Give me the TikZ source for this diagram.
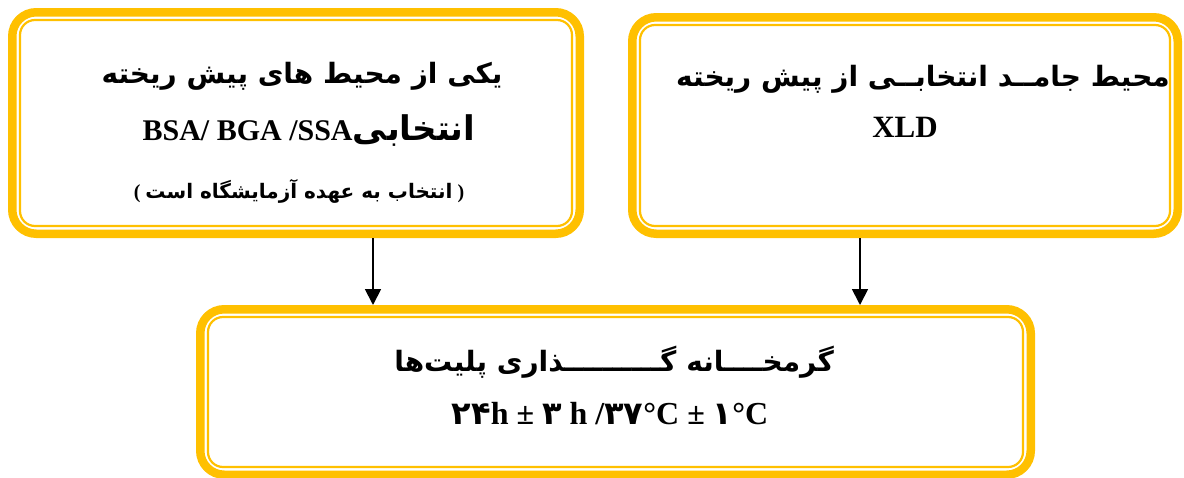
\documentclass[tikz,border=0pt]{standalone}
\usepackage{fontspec}
\setmainfont{Liberation Serif}
\newfontfamily\fa[Script=Arabic]{DejaVu Sans}
\usetikzlibrary{arrows.meta}
\TeXXeTstate=1
\definecolor{gold}{RGB}{255,192,0}
% right-to-left Persian run in bold
\newcommand{\rtl}[1]{{\fa\bfseries\beginR #1\endR}}

\begin{document}
\begin{tikzpicture}[x=1pt,y=-1pt,
  band/.style={rectangle, draw=gold, line width=8.5pt, rounded corners=24pt, inner sep=0pt},
  rim/.style={rectangle, draw=gold, line width=2.2pt, rounded corners=15pt, inner sep=0pt},
  lbl/.style={inner sep=0pt, anchor=center, font=\bfseries},
  arr/.style={line width=1.8pt, -{Triangle[length=16pt,width=16pt]}},
  ]
\useasboundingbox (0,0) rectangle (1184,477);

% boxes: thick outer band plus thin inner rim
\node[band, minimum width=567.5pt, minimum height=221.5pt] (b1) at (296,123) {};
\node[rim,  minimum width=552pt,   minimum height=206pt]   (b1r) at (b1.center) {};
\node[band, minimum width=545.5pt, minimum height=216.5pt] (b2) at (905,125.5) {};
\node[rim,  minimum width=530pt,   minimum height=201pt]   (b2r) at (b2.center) {};
\node[band, minimum width=830.5pt, minimum height=165.5pt] (b3) at (615.5,392) {};
\node[rim,  minimum width=815pt,   minimum height=150pt]   (b3r) at (b3.center) {};

% texts of the first box
\node[lbl, font=\fontsize{28}{32}\selectfont] (t11) at (302,76) {\rtl{یکی از محیط های پیش ریخته}};
\node[lbl, font=\fontsize{34}{38}\selectfont\bfseries] (t12) at (309,131)
  {{\fontsize{30}{36}\selectfont BSA/ BGA /SSA}\rtl{انتخابی}};
\node[lbl, font=\fontsize{20}{24}\selectfont\bfseries] (t13) at (299,191)
  {(\ \rtl{انتخاب به عهده آزمایشگاه است}\ )};

% texts of the second box
\node[lbl, font=\fontsize{28}{32}\selectfont] (t21) at (923,79) {\rtl{محیط جامــد انتخابــی از پیش ریخته}};
\node[lbl, font=\fontsize{31}{36}\selectfont\bfseries] (t22) at (905,127) {XLD};

% texts of the third box
\node[lbl, font=\fontsize{28}{32}\selectfont] (t31) at (614,362) {\rtl{گرمخــــانه گــــــــــذاری پلیت‌ها}};
\node[lbl, font=\fontsize{32}{36}\selectfont\bfseries] (t32) at (610,414)
  {{\fa\bfseries ۲۴}h ± {\fa\bfseries ۳} h /{\fa\bfseries ۳۷}°C ± {\fa\bfseries ۱}°C};

% connectors
\coordinate (xa) at (373,0);
\coordinate (xb) at (860,0);
\draw[arr] (b1.south -| xa) -- (b3.north -| xa);
\draw[arr] (b2.south -| xb) -- (b3.north -| xb);
\end{tikzpicture}
\end{document}
